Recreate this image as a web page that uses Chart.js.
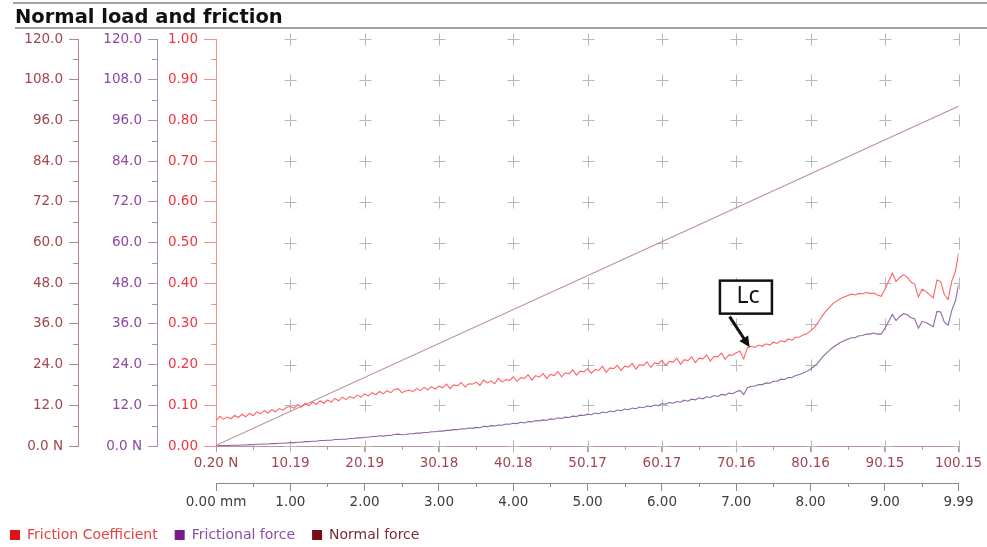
<!DOCTYPE html>
<html>
<head>
<meta charset="utf-8">
<title>Normal load and friction</title>
<script src="https://cdn.jsdelivr.net/npm/chart.js@4.4.1/dist/chart.umd.min.js"></script>
<style>
  html, body { margin: 0; padding: 0; background: #fff; }
  #frictionChart { display: block; }
</style>
</head>
<body>
<canvas id="frictionChart" width="987" height="547"></canvas>
<script>
// samples every 0.05 mm, last one at 9.99 mm
const distanceStepMm = 0.05;
const distanceEndMm = 9.99;

const frictionCoefficient = [
  0.062, 0.073, 0.066, 0.071, 0.067, 0.075, 0.070, 0.078, 0.072, 0.080,
  0.075, 0.084, 0.079, 0.087, 0.081, 0.089, 0.084, 0.092, 0.088, 0.095,
  0.097, 0.093, 0.102, 0.096, 0.105, 0.099, 0.108, 0.102, 0.111, 0.105,
  0.113, 0.108, 0.117, 0.111, 0.120, 0.114, 0.122, 0.117, 0.125, 0.120,
  0.128, 0.123, 0.131, 0.126, 0.134, 0.128, 0.136, 0.131, 0.139, 0.141,
  0.131, 0.135, 0.137, 0.134, 0.141, 0.136, 0.144, 0.138, 0.146, 0.140,
  0.147, 0.143, 0.152, 0.141, 0.150, 0.148, 0.156, 0.145, 0.153, 0.152,
  0.157, 0.149, 0.162, 0.155, 0.160, 0.153, 0.166, 0.157, 0.163, 0.161,
  0.170, 0.159, 0.168, 0.166, 0.175, 0.162, 0.173, 0.169, 0.178, 0.166,
  0.176, 0.173, 0.183, 0.170, 0.180, 0.178, 0.187, 0.174, 0.184, 0.182,
  0.190, 0.179, 0.188, 0.186, 0.196, 0.181, 0.192, 0.190, 0.198, 0.186,
  0.196, 0.194, 0.203, 0.189, 0.200, 0.198, 0.207, 0.193, 0.204, 0.202,
  0.210, 0.198, 0.208, 0.206, 0.216, 0.201, 0.212, 0.210, 0.219, 0.205,
  0.216, 0.214, 0.224, 0.209, 0.220, 0.219, 0.228, 0.213, 0.224, 0.223,
  0.229, 0.233, 0.214, 0.241, 0.245, 0.242, 0.248, 0.245, 0.251, 0.248,
  0.255, 0.252, 0.259, 0.256, 0.263, 0.260, 0.267, 0.268, 0.273, 0.276,
  0.283, 0.291, 0.303, 0.318, 0.330, 0.340, 0.350, 0.356, 0.362, 0.366,
  0.370, 0.373, 0.371, 0.375, 0.374, 0.377, 0.375, 0.376, 0.371, 0.368,
  0.385, 0.405, 0.425, 0.404, 0.414, 0.421, 0.415, 0.403, 0.398, 0.366,
  0.385, 0.380, 0.372, 0.364, 0.408, 0.404, 0.372, 0.360, 0.405, 0.430,
  0.474,
];

const frictionalForce = [
  0.0, 0.1, 0.1, 0.1, 0.2, 0.2, 0.2, 0.3, 0.3, 0.4,
  0.4, 0.5, 0.5, 0.6, 0.6, 0.7, 0.7, 0.8, 0.8, 0.9,
  1.0, 1.0, 1.1, 1.1, 1.3, 1.3, 1.4, 1.4, 1.6, 1.6,
  1.7, 1.7, 1.9, 1.9, 2.0, 2.0, 2.2, 2.2, 2.4, 2.4,
  2.6, 2.6, 2.8, 2.8, 3.0, 2.9, 3.1, 3.1, 3.4, 3.5,
  3.3, 3.4, 3.6, 3.6, 3.8, 3.8, 4.0, 4.0, 4.2, 4.2,
  4.4, 4.4, 4.6, 4.6, 4.9, 4.8, 5.1, 5.0, 5.3, 5.2,
  5.5, 5.4, 5.8, 5.7, 6.0, 5.9, 6.2, 6.1, 6.5, 6.4,
  6.7, 6.6, 7.0, 6.8, 7.2, 7.1, 7.5, 7.4, 7.7, 7.6,
  8.0, 7.9, 8.3, 8.1, 8.5, 8.4, 8.8, 8.7, 9.1, 9.0,
  9.4, 9.2, 9.7, 9.5, 10.0, 9.8, 10.3, 10.1, 10.6, 10.4,
  10.9, 10.7, 11.2, 11.0, 11.5, 11.3, 11.8, 11.6, 12.1, 11.9,
  12.5, 12.3, 12.8, 12.6, 13.1, 12.9, 13.5, 13.2, 13.8, 13.6,
  14.2, 13.9, 14.5, 14.3, 14.9, 14.6, 15.2, 15.0, 15.6, 15.4,
  16.0, 16.4, 15.2, 17.2, 17.6, 17.6, 18.1, 18.1, 18.6, 18.5,
  19.1, 19.1, 19.7, 19.6, 20.2, 20.2, 20.8, 21.1, 21.5, 22.0,
  22.7, 23.5, 24.6, 26.0, 27.1, 28.1, 29.1, 29.8, 30.5, 31.0,
  31.5, 31.9, 31.9, 32.5, 32.6, 33.0, 33.0, 33.3, 33.0, 33.0,
  34.7, 36.7, 38.8, 37.0, 38.2, 39.0, 38.7, 37.8, 37.5, 34.7,
  36.7, 36.4, 35.8, 35.2, 39.7, 39.5, 36.5, 35.6, 40.0, 42.9,
  47.5,
];

// normal load ramps linearly, start and end of the scratch
const normalForceDistance = [0, 9.99];
const normalForce = [0.2, 100.15];

const distanceTicks = [0, 1, 2, 3, 4, 5, 6, 7, 8, 9, 9.99];
const loadTickLabels = ["0.20 N", "10.19", "20.19", "30.18", "40.18", "50.17", "60.17", "70.16", "80.16", "90.15", "100.15"];
const distanceTickLabels = ["0.00 mm", "1.00", "2.00", "3.00", "4.00", "5.00", "6.00", "7.00", "8.00", "9.00", "9.99"];

const seriesNames = ["Friction Coefficient", "Frictional force", "Normal force"];
const lineColors = ["#ff6262", "#8d6aa0", "#b98f98"];
const legendSwatches = ["#e3101c", "#7a1a8c", "#780f16"];
const legendTextColors = ["#e8403f", "#8a4fa6", "#7e2a34"];

// critical load marker, in mm / friction coefficient units
const lcLabel = { text: "Lc", x: 7.13, y: 0.367 };
const lcArrow = { fromX: 6.91, fromY: 0.318, toX: 7.18, toY: 0.2425 };

const tickFont = { family: "DejaVu Sans", size: 13.5 };

const toPoints = (values) => values.map((value, i) => ({ x: Math.min(i * distanceStepMm, distanceEndMm), y: value }));

function leftAxis(weight, width, lineColor, labelColor, max, step, tickLength, digits, zeroLabel) {
  return {
    type: "linear",
    position: "left",
    weight,
    min: 0,
    max,
    border: { display: true, color: lineColor, width: 1 },
    grid: { drawOnChartArea: false, drawTicks: true, tickLength, color: lineColor, tickColor: lineColor },
    ticks: {
      stepSize: step,
      color: labelColor,
      font: tickFont,
      padding: 6,
      callback: (value) => (value === 0 ? zeroLabel : Number(value).toFixed(digits)),
    },
    afterFit: (scale) => { scale.width = width; },
  };
}

function bottomAxis(weight, lineColor, labelColor, labels, tickLength, heightFn) {
  return {
    type: "linear",
    position: "bottom",
    weight,
    min: 0,
    max: distanceEndMm,
    border: { display: true, color: lineColor, width: 1 },
    grid: { drawOnChartArea: false, drawTicks: true, tickLength, color: lineColor, tickColor: lineColor },
    ticks: {
      color: labelColor,
      font: tickFont,
      padding: 3,
      autoSkip: false,
      maxRotation: 0,
      callback: (value, index) => labels[index],
    },
    afterBuildTicks: (scale) => { scale.ticks = distanceTicks.map((value) => ({ value })); },
    afterFit: (scale) => { scale.height = heightFn(scale); },
  };
}

const chartDecorations = {
  id: "chartDecorations",
  afterLayout(chart) {
    chart.legend.left -= 7;
    chart.legend.top += 5;
  },
  beforeDatasetsDraw(chart) {
    const { ctx, scales } = chart;
    ctx.save();

    // "+" markers at every grid crossing
    ctx.strokeStyle = "#b8b8b8";
    ctx.lineWidth = 1;
    distanceTicks.slice(1).forEach((d, col) => {
      const px = Math.round(scales.x.getPixelForValue(d)) + 0.5;
      const last = col === distanceTicks.length - 2;
      scales.yC.ticks.forEach((tick) => {
        const py = Math.round(scales.yC.getPixelForValue(tick.value)) + 0.5;
        ctx.beginPath();
        ctx.moveTo(px - 6, py);
        ctx.lineTo(last ? px : px + 6, py);
        ctx.moveTo(px, py - 6);
        ctx.lineTo(px, py + 6);
        ctx.stroke();
      });
    });

    // minor ticks on the left axes
    [["yN", 6, "#b4858b"], ["yF", 6, "#a98ab8"], ["yC", 0.05, "#f09090"]].forEach(([id, step, color]) => {
      const scale = scales[id];
      ctx.strokeStyle = color;
      for (let v = step; v < scale.max; v += step * 2) {
        const py = Math.round(scale.getPixelForValue(v)) + 0.5;
        ctx.beginPath();
        ctx.moveTo(scale.right - 5, py);
        ctx.lineTo(scale.right, py);
        ctx.stroke();
      }
    });

    // minor ticks on the bottom axes
    [["xN", "#c29098"], ["x", "#8a8a8a"]].forEach(([id, color]) => {
      const scale = scales[id];
      ctx.strokeStyle = color;
      for (let v = 0.5; v < scale.max; v += 1) {
        const px = Math.round(scale.getPixelForValue(v)) + 0.5;
        ctx.beginPath();
        ctx.moveTo(px, scale.top);
        ctx.lineTo(px, scale.top + 4);
        ctx.stroke();
      }
    });
    ctx.restore();
  },
  afterDatasetsDraw(chart) {
    const { ctx, scales } = chart;
    const x = scales.x;
    const y = scales.yC;
    ctx.save();

    const bx = x.getPixelForValue(lcLabel.x);
    const by = y.getPixelForValue(lcLabel.y);
    ctx.fillStyle = "#fff";
    ctx.strokeStyle = "#111";
    ctx.lineWidth = 2.5;
    ctx.fillRect(bx - 26, by - 16, 52, 33);
    ctx.strokeRect(bx - 26, by - 16, 52, 33);
    ctx.fillStyle = "#111";
    ctx.font = "23px 'Noto Sans'";
    ctx.textAlign = "center";
    ctx.textBaseline = "middle";
    ctx.fillText(lcLabel.text, bx + 2, by);

    const x0 = x.getPixelForValue(lcArrow.fromX);
    const y0 = y.getPixelForValue(lcArrow.fromY);
    const x1 = x.getPixelForValue(lcArrow.toX);
    const y1 = y.getPixelForValue(lcArrow.toY);
    const angle = Math.atan2(y1 - y0, x1 - x0);
    const head = 12;
    ctx.lineWidth = 3;
    ctx.beginPath();
    ctx.moveTo(x0, y0);
    ctx.lineTo(x1 - Math.cos(angle) * head * 0.8, y1 - Math.sin(angle) * head * 0.8);
    ctx.stroke();
    ctx.beginPath();
    ctx.moveTo(x1, y1);
    ctx.lineTo(x1 - head * Math.cos(angle - 0.45), y1 - head * Math.sin(angle - 0.45));
    ctx.lineTo(x1 - head * Math.cos(angle + 0.45), y1 - head * Math.sin(angle + 0.45));
    ctx.closePath();
    ctx.fill();
    ctx.restore();
  },
  afterDraw(chart) {
    const { ctx } = chart;
    ctx.save();
    ctx.strokeStyle = "#a3a3a3";
    ctx.lineWidth = 2;
    ctx.beginPath();
    ctx.moveTo(13, 3);
    ctx.lineTo(987, 3);
    ctx.moveTo(15, 28);
    ctx.lineTo(987, 28);
    ctx.stroke();
    ctx.fillStyle = "#111";
    ctx.font = "bold 19.5px 'DejaVu Sans'";
    ctx.textBaseline = "alphabetic";
    ctx.fillText("Normal load and friction", 15, 23);
    ctx.restore();
  },
};

new Chart(document.getElementById("frictionChart"), {
  type: "line",
  data: {
    datasets: [
      {
        label: seriesNames[0],
        data: toPoints(frictionCoefficient),
        xAxisID: "x",
        yAxisID: "yC",
        borderColor: lineColors[0],
        borderWidth: 1.1,
        pointRadius: 0,
        tension: 0,
      },
      {
        label: seriesNames[1],
        data: toPoints(frictionalForce),
        xAxisID: "x",
        yAxisID: "yF",
        borderColor: lineColors[1],
        borderWidth: 1.1,
        pointRadius: 0,
        tension: 0,
      },
      {
        label: seriesNames[2],
        data: normalForce.map((value, i) => ({ x: normalForceDistance[i], y: value })),
        xAxisID: "x",
        yAxisID: "yN",
        borderColor: lineColors[2],
        borderWidth: 1.1,
        pointRadius: 0,
        tension: 0,
      },
    ],
  },
  options: {
    responsive: false,
    animation: false,
    devicePixelRatio: 1,
    layout: { padding: { left: 0, right: 28.5, top: 39, bottom: 0 } },
    plugins: {
      title: { display: false },
      tooltip: { enabled: false },
      legend: {
        display: true,
        position: "bottom",
        align: "start",
        labels: {
          boxWidth: 10,
          boxHeight: 10,
          padding: 17,
          font: { family: "DejaVu Sans", size: 14 },
          generateLabels: (chart) => chart.data.datasets.map((ds, i) => ({
            text: ds.label,
            fillStyle: legendSwatches[i],
            strokeStyle: legendSwatches[i],
            lineWidth: 0,
            fontColor: legendTextColors[i],
            hidden: false,
            datasetIndex: i,
          })),
        },
      },
    },
    scales: {
      yN: leftAxis(2, 78, "#b4858b", "#a3454f", 120, 12, 9, 1, "0.0 N"),
      yF: leftAxis(1, 79, "#a98ab8", "#8a4aa2", 120, 12, 9, 1, "0.0 N"),
      yC: leftAxis(0, 59, "#f09090", "#f0343f", 1, 0.1, 12, 2, "0.00"),
      xN: bottomAxis(0, "#c29098", "#a3454f", loadTickLabels, 6, () => 37),
      x: bottomAxis(1, "#8a8a8a", "#3c3c3c", distanceTickLabels, 8,
        (scale) => 101 - 37 - ((scale.chart.legend && scale.chart.legend.height) || 38)),
    },
  },
  plugins: [chartDecorations],
});
</script>
</body>
</html>
